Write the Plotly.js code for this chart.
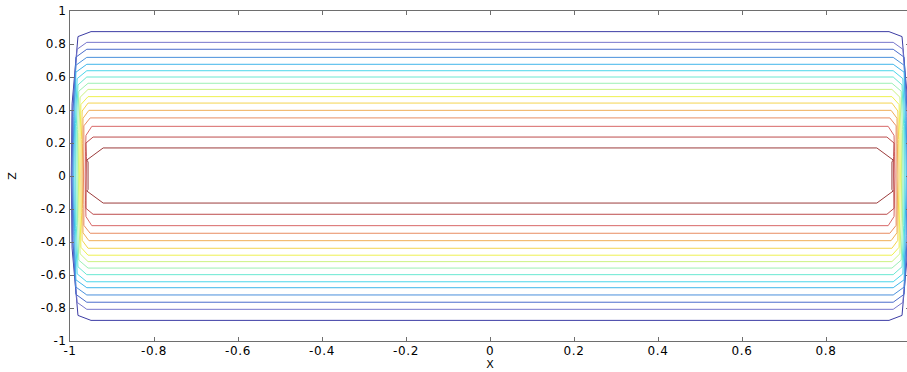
<!DOCTYPE html>
<html>
<head>
<meta charset="utf-8">
<script src="https://cdn.plot.ly/plotly-3.0.1.min.js"></script>
<style>
  html, body { margin: 0; padding: 0; background: #fff; overflow: hidden; }
  #chart { width: 920px; height: 372px; }
  #chart .xtick text, #chart .ytick text { letter-spacing: 0.6px; }
</style>
</head>
<body>
<div id="chart"></div>
<script>
// Contour loops, listed from the outermost (lowest level) to the innermost (highest level).
// Height of the flat upper and lower run of each loop (z)
const levelTop    = [0.875, 0.810, 0.768, 0.719, 0.677, 0.638, 0.600, 0.562, 0.525, 0.481, 0.442, 0.398, 0.352, 0.301, 0.236, 0.170];
const levelBottom = [-0.875, -0.808, -0.765, -0.721, -0.677, -0.641, -0.598, -0.558, -0.519, -0.480, -0.438, -0.392, -0.347, -0.301, -0.232, -0.164];
// x where the flat run ends and the loop bends toward the wall (left side; right side is mirrored)
const cornerX     = [-0.950, -0.960, -0.960, -0.960, -0.960, -0.960, -0.960, -0.957, -0.957, -0.957, -0.957, -0.955, -0.952, -0.948, -0.945, -0.921];
// z drop over which the bend happens
const bendDz      = [0.030, 0.042, 0.048, 0.048, 0.048, 0.048, 0.048, 0.048, 0.048, 0.048, 0.048, 0.048, 0.048, 0.055, 0.036, 0.073];
// x of the near-vertical part: just after the bend, at half height, and at z = 0
const wallXTop    = [-0.981, -0.983, -0.986, -0.986, -0.986, -0.983, -0.981, -0.979, -0.976, -0.974, -0.971, -0.969, -0.967, -0.962, -0.962, -0.960];
const wallXHalf   = [-0.995, -0.994, -0.993, -0.991, -0.989, -0.987, -0.985, -0.982, -0.979, -0.976, -0.973, -0.970, -0.967, -0.963, -0.961, -0.957];
const wallXMid    = [-0.997, -0.996, -0.995, -0.993, -0.991, -0.988, -0.986, -0.983, -0.980, -0.977, -0.974, -0.971, -0.968, -0.964, -0.961, -0.957];

const lineColors = ['#3c3ca4', '#7676cc', '#4a6ccc', '#4a90dc', '#40b6ea', '#4cd6ea', '#6ae8d2', '#9cf0b4',
                    '#ccf282', '#eef050', '#f4d450', '#f0ae58', '#e88c60', '#d86868', '#bc4c4c', '#9c3c3c'];

const xTickVals = [-1, -0.8, -0.6, -0.4, -0.2, 0, 0.2, 0.4, 0.6, 0.8, 1];
const xTickText = ['-1', '-0.8', '-0.6', '-0.4', '-0.2', '0', '0.2', '0.4', '0.6', '0.8', '1'];
const yTickVals = [-1, -0.8, -0.6, -0.4, -0.2, 0, 0.2, 0.4, 0.6, 0.8, 1];
const yTickText = ['-1', '-0.8', '-0.6', '-0.4', '-0.2', '0', '0.2', '0.4', '0.6', '0.8', '1'];

const traces = levelTop.map((top, i) => {
  const bot = levelBottom[i];
  const b = bendDz[i];
  // left side, top to bottom
  const lx = [cornerX[i], wallXTop[i], wallXHalf[i], wallXMid[i], wallXHalf[i], wallXTop[i], cornerX[i]];
  const lz = [top, top - b, top / 2, 0, bot / 2, bot + b, bot];
  // right side (mirror), bottom to top
  const rx = lx.slice().reverse().map(v => -v);
  const rz = lz.slice().reverse();
  return {
    type: 'scatter', mode: 'lines',
    x: lx.concat(rx, [lx[0]]),
    y: lz.concat(rz, [lz[0]]),
    line: { color: lineColors[i], width: 1 },
    hoverinfo: 'skip', showlegend: false
  };
});

const labelFont = { family: 'DejaVu Sans, Arial, sans-serif', size: 12, color: '#000' };
const titleFont = { family: 'DejaVu Sans, Arial, sans-serif', size: 11, color: '#000' };

const axisCommon = {
  range: [-1, 1], showgrid: false, zeroline: false,
  showline: true, mirror: 'ticks', linecolor: '#6e6e6e', linewidth: 1,
  ticks: 'inside', ticklen: 4, tickcolor: '#6e6e6e', tickwidth: 1,
  tickmode: 'array',
  tickfont: labelFont
};

const layout = {
  width: 920, height: 372,
  margin: { l: 70, r: 10, t: 11, b: 31 },
  paper_bgcolor: '#fff', plot_bgcolor: '#fff',
  xaxis: Object.assign({}, axisCommon, {
    tickvals: xTickVals, ticktext: xTickText, ticklabelstandoff: -1,
    title: { text: 'X', font: titleFont, standoff: 2 }
  }),
  yaxis: Object.assign({}, axisCommon, {
    tickvals: yTickVals, ticktext: yTickText,
    title: { text: 'Z', font: titleFont, standoff: 24 }
  })
};

Plotly.newPlot('chart', traces, layout, { staticPlot: true, displayModeBar: false });
</script>
</body>
</html>
